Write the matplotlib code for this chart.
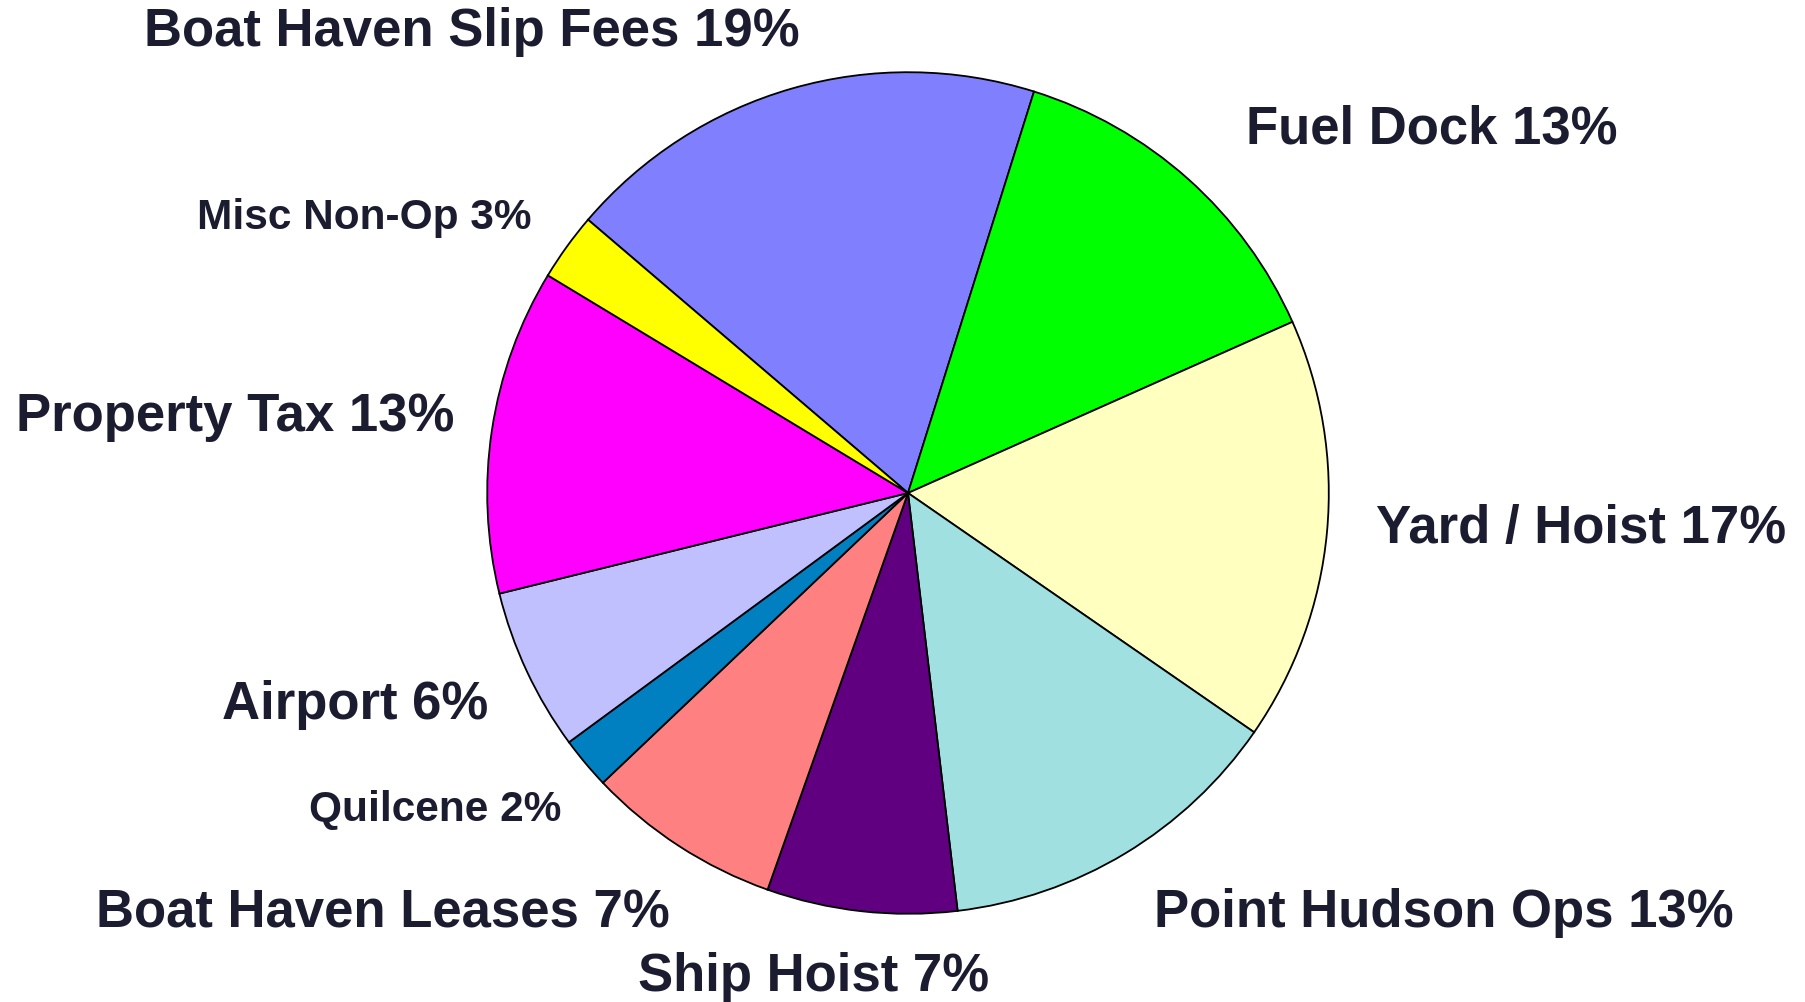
import matplotlib
matplotlib.use('Agg')
import matplotlib.pyplot as plt

# slices, clockwise starting at Boat Haven Slip Fees
names = ['Boat Haven Slip Fees', 'Fuel Dock', 'Yard / Hoist', 'Point Hudson Ops',
         'Ship Hoist', 'Boat Haven Leases', 'Quilcene', 'Airport',
         'Property Tax', 'Misc Non-Op']
shares = [18.6, 13.5, 16.3, 13.5, 7.3, 7.5, 2.0, 6.25, 12.5, 2.6]
label_pct = [19, 13, 17, 13, 7, 7, 2, 6, 13, 3]
colors = ['#8080ff', '#00ff00', '#ffffc0', '#a0e0e0', '#600080',
          '#ff8080', '#0080c0', '#c0c0ff', '#ff00ff', '#ffff00']

# label centres in figure pixels (x, y from top), font size
label_pos = [(472, 32, 38), (1432, 129, 38), (1581, 529, 38), (1444, 913, 38),
             (814, 977, 38), (383, 913, 38), (435, 810, 30.5), (355, 705, 38),
             (235, 417, 38), (364, 218, 30.5)]

W, H = 1806, 1003
fig = plt.figure(figsize=(W / 100, H / 100), dpi=100)
fig.patch.set_facecolor('white')

cx, cy, r = 908, 494, 425
ax = fig.add_axes([(cx - r) / W, (H - cy - r) / H, 2 * r / W, 2 * r / H])
ax.pie(shares, colors=colors, startangle=139.5, counterclock=False, radius=1,
       wedgeprops=dict(edgecolor='black', linewidth=1.3))
ax.set_xlim(-1.01, 1.01)
ax.set_ylim(-1.01, 1.01)
ax.set_aspect('equal')
ax.axis('off')

for name, pct, (x, y, fs) in zip(names, label_pct, label_pos):
    fig.text(x / W, 1 - y / H, f'{name} {pct}%', ha='center', va='center',
             fontsize=fs, fontweight='bold', family='Liberation Sans',
             color='#1c1c30')

fig.savefig('out.png', dpi=100, facecolor='white')
